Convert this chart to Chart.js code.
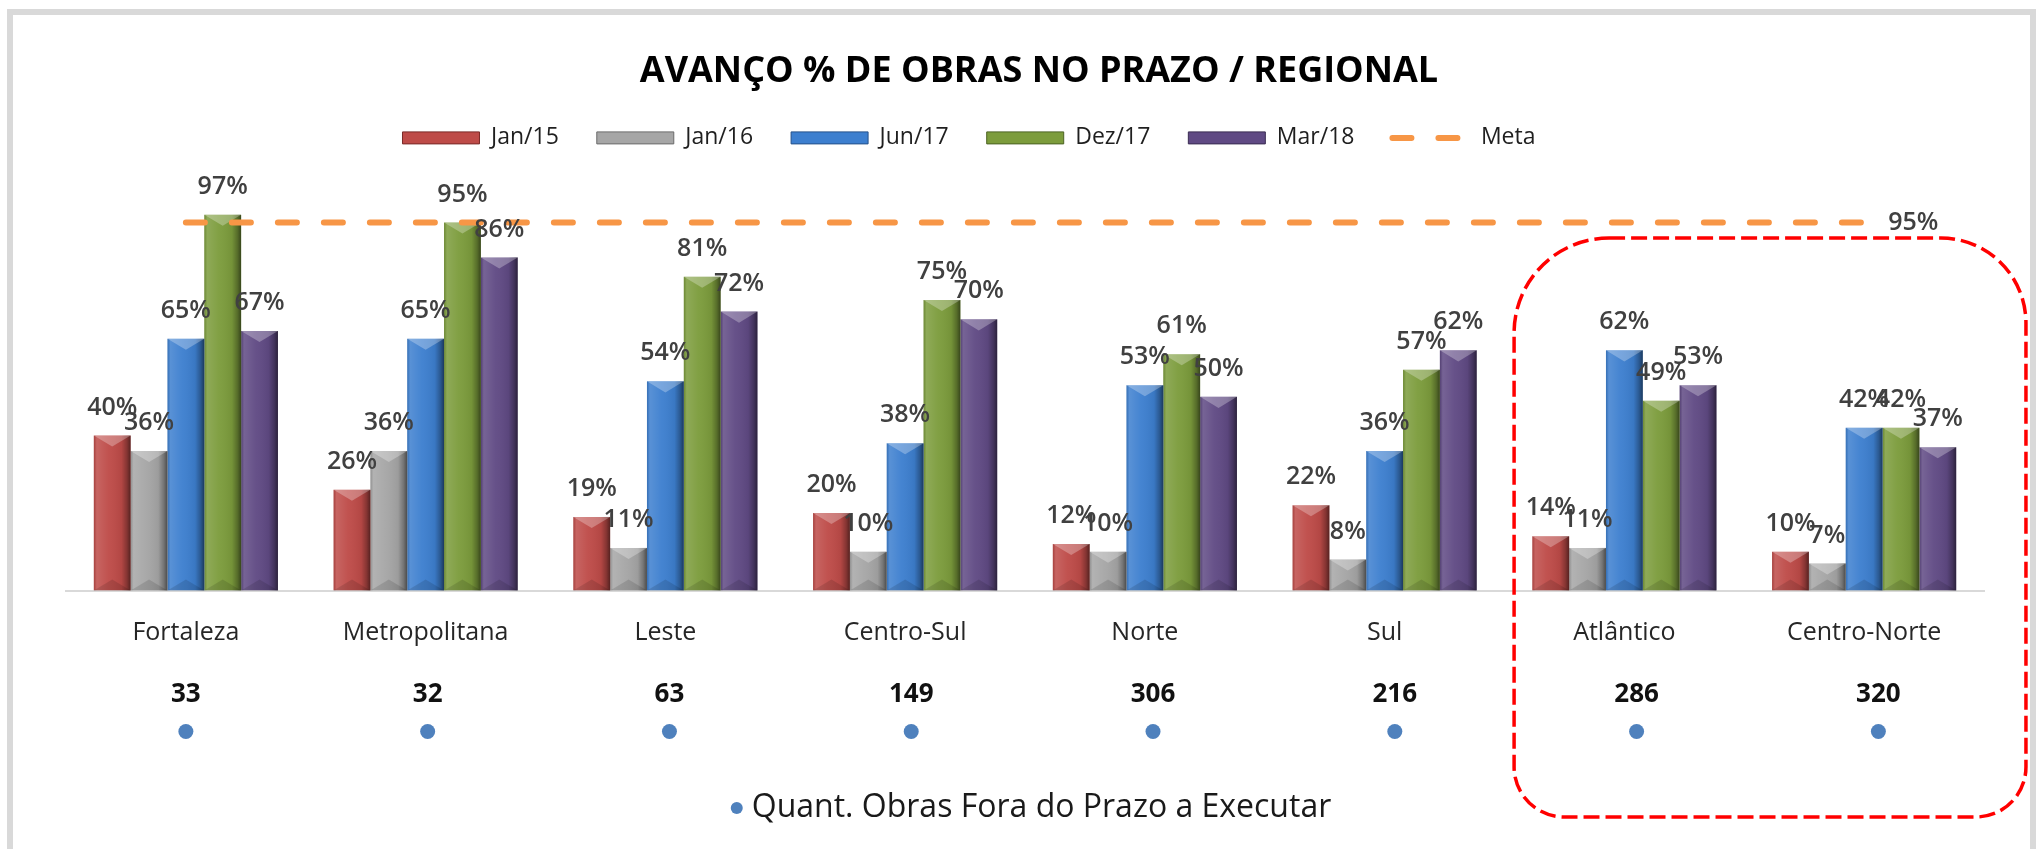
<!DOCTYPE html>
<html>
<head>
<meta charset="utf-8">
<title>Avanço % de obras no prazo / regional</title>
<script src="https://cdn.jsdelivr.net/npm/chart.js@4.4.1/dist/chart.umd.min.js"></script>
<style>
  html, body { margin: 0; padding: 0; background: #fff; }
  #wrap { width: 2041px; height: 849px; position: relative; }
</style>
</head>
<body>
<div id="wrap"><canvas id="obrasChart"></canvas></div>
<script>
// Regionais
var regionais = ['Fortaleza', 'Metropolitana', 'Leste', 'Centro-Sul', 'Norte', 'Sul', 'Atlântico', 'Centro-Norte'];

// Avanço % por período
var jan15 = [40, 26, 19, 20, 12, 22, 14, 10];
var jan16 = [36, 36, 11, 10, 10, 8, 11, 7];
var jun17 = [65, 65, 54, 38, 53, 36, 62, 42];
var dez17 = [97, 95, 81, 75, 61, 57, 49, 42];
var mar18 = [67, 86, 72, 70, 50, 62, 53, 37];
var meta = [95, 95, 95, 95, 95, 95, 95, 95];

// Quant. obras fora do prazo a executar
var foraPrazo = [33, 32, 63, 149, 306, 216, 286, 320];

Chart.defaults.font.family = '"Open Sans", sans-serif';

// moldura cinza + fundo branco
var moldura = {
    id: 'moldura',
    beforeDraw: function (chart) {
        var ctx = chart.ctx;
        ctx.save();
        ctx.fillStyle = '#ffffff';
        ctx.fillRect(0, 0, chart.width, chart.height);
        ctx.strokeStyle = '#d9d9d9';
        ctx.lineWidth = 6;
        ctx.strokeRect(10, 12, 2023, 900);
        ctx.restore();
    }
};

// desloca legenda e título como no original
var ajuste = {
    id: 'ajuste',
    afterLayout: function (chart) {
        chart.legend.left -= 56;
        chart.legend.right -= 56;
        chart.titleBlock.left += 14;
        chart.titleBlock.right += 14;
    }
};

// efeito de bisel nas barras
var bisel = {
    id: 'bisel',
    afterDatasetDraw: function (chart, args) {
        if (args.meta.type !== 'bar') return;
        var ctx = chart.ctx;
        ctx.save();
        args.meta.data.forEach(function (bar) {
            var w = bar.width, l = bar.x - w / 2, r = bar.x + w / 2, t = bar.y, b = bar.base;
            var g = ctx.createLinearGradient(l, 0, r, 0);
            g.addColorStop(0, 'rgba(0,0,0,0.12)');
            g.addColorStop(0.08, 'rgba(255,255,255,0.14)');
            g.addColorStop(0.4, 'rgba(255,255,255,0.04)');
            g.addColorStop(0.75, 'rgba(0,0,0,0.06)');
            g.addColorStop(0.9, 'rgba(0,0,0,0.3)');
            g.addColorStop(1, 'rgba(0,0,0,0.55)');
            ctx.fillStyle = g;
            ctx.fillRect(l, t, w, b - t);
            var d = Math.min(w * 0.3, (b - t) / 2);
            ctx.fillStyle = 'rgba(255,255,255,0.28)';
            ctx.beginPath();
            ctx.moveTo(l, t); ctx.lineTo(r, t); ctx.lineTo(bar.x, t + d); ctx.closePath();
            ctx.fill();
            ctx.fillStyle = 'rgba(0,0,0,0.12)';
            ctx.beginPath();
            ctx.moveTo(l, b); ctx.lineTo(r, b); ctx.lineTo(bar.x, b - d); ctx.closePath();
            ctx.fill();
        });
        ctx.restore();
    }
};

// rótulos de valor
var rotulos = {
    id: 'rotulos',
    afterDatasetsDraw: function (chart) {
        var ctx = chart.ctx;
        ctx.save();
        ctx.font = '600 25px "Open Sans"';
        ctx.fillStyle = '#404040';
        ctx.textAlign = 'center';
        ctx.textBaseline = 'middle';
        chart.data.datasets.forEach(function (ds, i) {
            var m = chart.getDatasetMeta(i);
            if (m.type === 'bar') {
                m.data.forEach(function (bar, j) {
                    ctx.fillText(ds.data[j] + '%', bar.x, bar.y - 28);
                });
            } else {
                var last = m.data[m.data.length - 1];
                ctx.textAlign = 'left';
                ctx.fillText(ds.data[ds.data.length - 1] + '%', last.x + 24, last.y);
                ctx.textAlign = 'center';
            }
        });
        ctx.restore();
    }
};

// quantidades, pontos, legenda inferior e destaque tracejado
var extras = {
    id: 'extras',
    afterDraw: function (chart) {
        var ctx = chart.ctx;
        var xs = chart.scales.x, ys = chart.scales.y;
        var base = chart.chartArea.bottom;
        var x0 = xs.getPixelForValue(0) + 1;
        ctx.save();
        ctx.textAlign = 'center';
        ctx.textBaseline = 'middle';
        foraPrazo.forEach(function (q, i) {
            // a linha de quantidades fica um pouco mais espaçada que o eixo
            var px = x0 + (xs.getPixelForValue(i) - x0) * 1.0085;
            ctx.font = 'bold 26px "Open Sans"';
            ctx.fillStyle = '#111111';
            ctx.fillText(String(q), px, base + 104);
            ctx.fillStyle = '#4f81bd';
            ctx.beginPath();
            ctx.arc(px, base + 141, 7.5, 0, Math.PI * 2);
            ctx.fill();
        });

        // legenda da série de pontos
        ctx.font = '32px "Open Sans"';
        var txt = 'Quant. Obras Fora do Prazo a Executar';
        var tw = ctx.measureText(txt).width;
        var lx = 1031 - (tw + 21) / 2;
        ctx.fillStyle = '#4f81bd';
        ctx.beginPath();
        ctx.arc(lx + 6, 808, 6, 0, Math.PI * 2);
        ctx.fill();
        ctx.fillStyle = '#1a1a1a';
        ctx.textAlign = 'left';
        ctx.fillText(txt, lx + 21, 808);

        // destaque das duas últimas regionais
        var band = xs.getPixelForValue(1) - xs.getPixelForValue(0);
        var left = xs.getPixelForValue(6) - band * 0.46;
        var right = xs.getPixelForValue(7) + band * 0.675;
        var top = ys.getPixelForValue(91);
        var bottom = 817;
        ctx.strokeStyle = '#ff0000';
        ctx.lineWidth = 3.5;
        ctx.setLineDash([16, 6]);
        ctx.beginPath();
        ctx.roundRect(left, top, right - left, bottom - top, [95, 85, 50, 50]);
        ctx.stroke();
        ctx.restore();
    }
};

var ctx = document.getElementById('obrasChart').getContext('2d');
var obrasChart = new Chart(ctx, {
    type: 'bar',
    data: {
        labels: regionais,
        datasets: [
            { label: 'Jan/15', data: jan15, backgroundColor: '#be4b48', edge: '#7a2a28', order: 1 },
            { label: 'Jan/16', data: jan16, backgroundColor: '#a6a6a6', edge: '#6b6b6b', order: 1 },
            { label: 'Jun/17', data: jun17, backgroundColor: '#3d7fcf', edge: '#25528a', order: 1 },
            { label: 'Dez/17', data: dez17, backgroundColor: '#7c9c3c', edge: '#4d6324', order: 1 },
            { label: 'Mar/18', data: mar18, backgroundColor: '#604a84', edge: '#3a2c52', order: 1 },
            {
                type: 'line',
                label: 'Meta',
                data: meta,
                borderColor: '#f79646',
                backgroundColor: '#f79646',
                borderWidth: 6,
                borderDash: [19, 27],
                borderCapStyle: 'round',
                pointRadius: 0,
                fill: false,
                order: 0
            }
        ]
    },
    options: {
        responsive: true,
        maintainAspectRatio: false,
        animation: false,
        devicePixelRatio: 1,
        datasets: {
            bar: { barPercentage: 1, categoryPercentage: 0.768, borderWidth: 0 }
        },
        layout: {
            padding: { top: 20, left: 66, right: 57, bottom: 174.5 }
        },
        plugins: {
            title: {
                display: true,
                text: 'AVANÇO % DE OBRAS NO PRAZO / REGIONAL',
                color: '#000000',
                font: { size: 36, weight: 'bold', lineHeight: 0.9 },
                padding: { top: 36, bottom: 0 }
            },
            legend: {
                position: 'top',
                labels: {
                    usePointStyle: true,
                    pointStyleWidth: 77,
                    boxHeight: 12,
                    padding: 38,
                    color: '#1f1f1f',
                    font: { size: 23 },
                    generateLabels: function (chart) {
                        var items = Chart.defaults.plugins.legend.labels.generateLabels(chart);
                        items.forEach(function (it) {
                            var ds = chart.data.datasets[it.datasetIndex];
                            if (ds.type === 'line') {
                                it.pointStyle = 'line';
                                it.lineWidth = 6;
                                it.lineCap = 'round';
                                it.strokeStyle = ds.borderColor;
                                it.lineDash = ds.borderDash;
                            } else {
                                it.pointStyle = 'rect';
                                it.lineWidth = 1;
                                it.strokeStyle = ds.edge;
                            }
                        });
                        return items;
                    },
                    sort: function (a, b) { return a.datasetIndex - b.datasetIndex; }
                }
            },
            tooltip: { enabled: false }
        },
        scales: {
            x: {
                grid: { display: false, drawTicks: false },
                border: { display: true, color: '#d9d9d9', width: 2 },
                ticks: { color: '#262626', font: { size: 25 }, padding: 27 }
            },
            y: {
                display: false,
                min: 0,
                max: 111.3
            }
        }
    },
    plugins: [moldura, ajuste, bisel, rotulos, extras]
});
</script>
</body>
</html>
